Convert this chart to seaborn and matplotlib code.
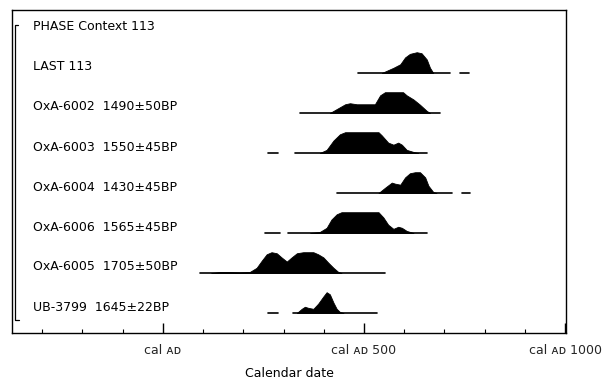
import numpy as np
import pandas as pd
import matplotlib
matplotlib.use("Agg")
import matplotlib.pyplot as plt
import seaborn as sns

# ---- data (calendar years AD, relative probability 0..1) ----
labels = ["PHASE Context 113", "LAST 113", "OxA-6002  1490\u00b150BP",
          "OxA-6003  1550\u00b145BP", "OxA-6004  1430\u00b145BP",
          "OxA-6006  1565\u00b145BP", "OxA-6005  1705\u00b150BP",
          "UB-3799  1645\u00b122BP"]

last_years = [544, 573, 590, 602, 614, 631, 643, 656, 664, 672]
last_prob = [0, .25, .42, .75, .92, 1, .95, .65, .25, 0]
last_range = [(486, 714), (739, 760)]

oxa6002_years = [415, 453, 465, 482, 527, 540, 552, 556, 597, 606, 623, 639, 656, 664]
oxa6002_prob = [0, .42, .47, .42, .42, .85, 1, 1, 1, .85, .65, .4, .1, 0]
oxa6002_range = [(340, 689)]

oxa6003_years = [390, 407, 424, 440, 453, 536, 544, 560, 573, 585, 594, 606, 623, 635]
oxa6003_prob = [0, .15, .6, .9, 1, 1, .85, .5, .4, .5, .4, .15, .05, 0]
oxa6003_range = [(261, 286), (328, 656)]

oxa6004_years = [536, 552, 569, 577, 590, 602, 614, 627, 639, 652, 660, 672, 680]
oxa6004_prob = [0, .25, .5, .45, .4, .75, .95, 1, 1, .75, .35, .05, 0]
oxa6004_range = [(432, 718), (743, 764)]

oxa6006_years = [366, 390, 407, 419, 432, 444, 536, 548, 560, 573, 585, 594, 606, 623]
oxa6006_prob = [0, .05, .25, .65, .9, 1, 1, .75, .4, .2, .3, .25, .1, 0]
oxa6006_range = [(254, 291), (312, 656)]

oxa6005_years = [120, 142, 158, 191, 216, 233, 246, 258, 270, 283, 295, 308, 320,
                 333, 349, 374, 386, 399, 411, 424, 436, 444]
oxa6005_prob = [0, .05, .05, .03, .05, .25, .6, .9, 1, .95, .75, .55, .75,
                .95, 1, 1, .9, .75, .5, .25, .05, 0]
oxa6005_range = [(92, 552)]

ub3799_years = [333, 345, 353, 361, 374, 386, 399, 407, 415, 424, 432, 440, 449]
ub3799_prob = [0, .2, .3, .25, .2, .45, .8, 1, .9, .5, .2, .05, 0]
ub3799_range = [(262, 287), (324, 532)]

series = [
    (last_years, last_prob, last_range),
    (oxa6002_years, oxa6002_prob, oxa6002_range),
    (oxa6003_years, oxa6003_prob, oxa6003_range),
    (oxa6004_years, oxa6004_prob, oxa6004_range),
    (oxa6006_years, oxa6006_prob, oxa6006_range),
    (oxa6005_years, oxa6005_prob, oxa6005_range),
    (ub3799_years, ub3799_prob, ub3799_range),
]

major_ticks = [0, 500, 1000]
major_labels = ["cal \u1d00\u1d05", "cal \u1d00\u1d05 500", "cal \u1d00\u1d05 1000"]
minor_ticks = list(range(-300, 1001, 100))

# ---- plotting ----
sns.set_theme(style="white")
plt.rcParams["font.family"] = ["DejaVu Sans"]

fig = plt.figure(figsize=(6.03, 3.79), dpi=100)
ax = fig.add_axes([12 / 603, 46 / 379, 554 / 603, 323 / 379])

scale = 0.52  # peak height in row units
for i, (yrs, prob, rngs) in enumerate(series, start=1):
    for a, b in rngs:
        seg = pd.DataFrame({"year": [a, b], "y": [i, i]})
        sns.lineplot(data=seg, x="year", y="y", ax=ax, color="black",
                     linewidth=1.2, estimator=None)
    top = [i - scale * p for p in prob]
    ax.fill_between(yrs, i, top, facecolor="black", edgecolor="black",
                    linewidth=0.6, zorder=3)

for i, lab in enumerate(labels):
    ax.text(-322, i - 0.15, lab, fontsize=9, color="black", va="center", ha="left")

# phase bracket
ax.plot([-360, -368, -368, -358], [-0.2, -0.2, 7.18, 7.18], color="black", linewidth=0.9)

ax.set_xlim(-375, 1002)
ax.set_ylim(7.5, -0.575)
ax.set_yticks([])
ax.set_xticks(major_ticks)
ax.set_xticklabels(major_labels, fontsize=9)
ax.set_xticks(minor_ticks, minor=True)
ax.tick_params(axis="x", which="major", direction="in", length=7, width=1,
               color="black", pad=8, bottom=True, top=False)
ax.tick_params(axis="x", which="minor", direction="in", length=3, width=0.8,
               color="black", bottom=True, top=False)
ax.set_xlabel("Calendar date", fontsize=9, labelpad=7, color="black")
ax.set_ylabel("")
for s in ax.spines.values():
    s.set_color("black")
    s.set_linewidth(1.0)
    s.set_visible(True)

fig.savefig("out.png", dpi=100, facecolor="white")
